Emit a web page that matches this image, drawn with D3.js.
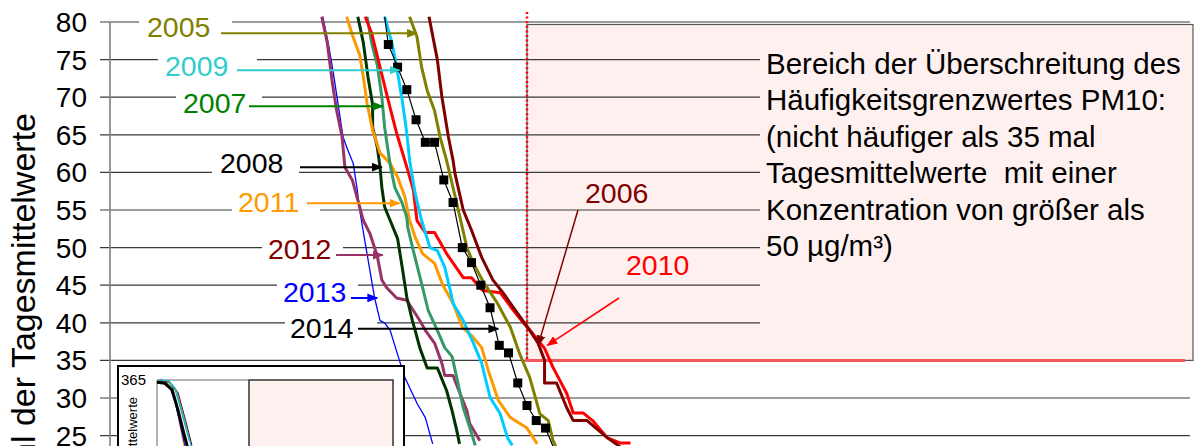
<!DOCTYPE html>
<html>
<head>
<meta charset="utf-8">
<script src="https://cdn.jsdelivr.net/npm/d3@7"></script>
<style>
  body { margin: 0; background: #fff; }
  svg { display: block; font-family: "Liberation Sans", Arial, sans-serif; }
  text { white-space: pre; }
</style>
</head>
<body>
<svg id="chart" width="1195" height="446"></svg>
<script>
// ---- data: [concentration µg/m³, number of daily means above it] ----
const yTicks = [80, 75, 70, 65, 60, 55, 50, 45, 40, 35, 30, 25];
const limitConc = 50;   // PM10 daily limit
const limitDays = 35;   // allowed exceedances per year

const s2005 = [[37.3,80.7],[38.1,78],[38.6,74],[39.2,70.9],[40.0,68.2],[40.6,64.7],[41.3,61.6],[42.4,55.9],[43.5,50],[44.2,47.9],[45.3,45.4],[46.8,42.6],[48.2,39.4],[49.2,35.9],[50.3,32.7],[51.4,27.9],[52.3,27],[52.8,24.4],[53.3,23]];
const s2006 = [[39.4,80.7],[40.3,75],[40.8,70],[41.5,64.7],[42.0,61.6],[42.2,59.9],[43.1,55],[44.0,52.3],[45.1,48.7],[46.3,45.7],[47.4,44],[48.5,42.1],[50.3,39],[51.2,37.3],[51.9,35],[51.9,32],[53.2,32],[54.3,28.7],[55.0,27],[56.5,27],[58.7,24.7],[60.1,23.5]];
const s2007 = [[32.7,80.7],[33.2,77.2],[33.8,74.3],[34.3,70],[34.6,66],[34.8,64.3],[35.2,61],[35.7,58],[36.5,55.9],[37.0,54],[37.1,52.7],[37.7,49.6],[38.5,45.7],[39.3,41.7],[40.3,39],[41.1,36.7],[41.9,35.5],[42.4,32.7],[43.1,28.7],[43.8,26.1],[44.4,23.7]];
const s2008 = [[31.7,80.7],[32.3,77.2],[32.8,72.7],[33.3,69],[33.3,66],[33.8,63.4],[34.1,60.7],[34.3,58],[34.6,55.4],[35.2,53.6],[36.0,51.2],[36.5,47.4],[37.0,43.4],[37.6,40.3],[37.9,39],[38.4,36.7],[39.2,34],[40.3,34],[41.3,31],[41.9,28.3],[42.4,25.7],[42.7,23.9]];
const s2009 = [[34.6,80.7],[35.4,77.2],[35.9,74],[36.5,69.6],[37.0,65.2],[37.3,61.6],[37.9,57.2],[38.6,53.6],[39.5,50],[40.3,49.6],[41.1,47.4],[41.7,44.3],[42.0,42.6],[43.1,40.3],[44.2,37.3],[45.1,34.6],[46.0,30.1],[47.1,27.9],[47.9,24.7],[48.4,23.7]];
const s2010 = [[32.5,80.7],[33.2,78.5],[34.1,74],[34.8,70.5],[35.9,65.2],[37.0,60.7],[37.7,57.7],[38.1,53.6],[39.0,52],[40.0,52],[41.3,49.2],[43.1,46],[44.0,46],[45.2,44.3],[47.1,44],[48.5,41.7],[49.6,40],[50.6,38.6],[51.9,36.6],[52.8,34.1],[54.3,30.6],[55.0,28],[56.1,28],[57.1,27],[58.7,24.7],[60.1,24],[61.2,24]];
const s2011 = [[30.5,80.7],[31.1,78.3],[31.9,75.6],[32.3,72.7],[32.7,69.2],[33.3,65.6],[34.1,62.6],[35.2,61.2],[36.0,59.4],[36.8,56.7],[37.3,53.6],[37.9,51.4],[38.7,49.2],[40.0,47.9],[40.9,45],[42.0,42.6],[43.0,39.4],[44.0,38.3],[45.1,36.7],[45.8,33.7],[46.9,29.7],[48.2,27.4],[50.0,26],[51.1,23.9]];
const s2012 = [[27.8,80.7],[28.4,77.2],[28.9,72.3],[29.4,68.3],[30.0,64.7],[30.3,60.7],[31.1,59],[31.7,56.3],[32.3,53.6],[33.0,51.9],[33.8,48.9],[34.3,45.7],[34.8,44.7],[35.9,43.3],[37.0,43],[38.4,40.3],[39.0,39],[40.0,37.3],[40.8,34.6],[41.1,33],[42.0,33],[42.5,31.4],[43.5,28.3],[43.8,26.6],[44.9,24.3]];
const s2013 = [[27.9,80.7],[28.5,77.2],[29.0,73.6],[29.5,69.6],[30.1,64.7],[30.6,63],[31.2,61.2],[31.6,58],[31.9,55],[32.5,50.6],[33.0,47],[33.5,43.4],[34.1,40.3],[34.6,40],[35.2,39],[36.3,34.6],[36.8,32.7],[38.1,29.3],[39.0,27.4],[39.8,23.9]];
const s2014 = [[34.6,80.7],[35,77],[36,74],[37,71],[38,67],[39,64],[40,64],[41,59],[42,56],[43,50],[44,48],[45,45],[46,42],[47,37],[48,36],[49,32],[50,29],[51,27],[52,26],[53,23]];

// inset: whole year (0..365 days)
const insetBlack  = [[0,361],[4.3,359],[8.2,347],[11.4,310],[14.1,274],[16.3,246],[20,180]];
const insetOrange = [[0,364],[5,362],[8,348],[10.5,318],[13,272],[15.5,230]];
const insetBlue   = [[0,362],[3,361],[7,352],[10,322],[12.8,280],[15.5,240]];
const insetCyan   = [[0.5,365],[6,364],[10,350],[13.5,310],[17,265],[19.5,230]];
const insetRed    = [[1,365],[6.5,363],[10.5,346],[14.5,298],[18.5,248]];
const insetMaroon = [[2,365],[7,362],[11.5,342],[15.5,292],[19,246]];
const insetOlive  = [[1,364],[7,360],[11,341],[15,290],[18.8,244]];
const insetGreen  = [[0.5,364],[6,361],[10,345],[13.8,300],[17.5,254]];
const insetPurple = [[0,363],[4.5,360],[8.5,344],[11.8,300],[14.8,252]];

const noteLines = ["Bereich der Überschreitung des", "Häufigkeitsgrenzwertes PM10:",
  "(nicht häufiger als 35 mal", "Tagesmittelwerte  mit einer",
  "Konzentration von größer als", "50 µg/m³)"];

// ---- setup ----
const svg = d3.select("#chart");
const x = d3.scaleLinear().domain([5, 50]).range([111, 527]);
const y = d3.scaleLinear().domain([25, 80]).range([435.6, 22]);

const series = [
  {name: "2013", data: s2013, color: "#0000ff", w: 1.3},
  {name: "2012", data: s2012, color: "#993366", w: 3},
  {name: "2008", data: s2008, color: "#003300", w: 3},
  {name: "2011", data: s2011, color: "#ff9900", w: 3},
  {name: "2007", data: s2007, color: "#339966", w: 3},
  {name: "2010", data: s2010, color: "#ff0000", w: 3},
  {name: "2009", data: s2009, color: "#00ccff", w: 3},
  {name: "2005", data: s2005, color: "#808000", w: 3},
  {name: "2006", data: s2006, color: "#800000", w: 3},
  {name: "2014", data: s2014, color: "#000000", w: 1.2}
];

// arrow heads
const defs = svg.append("defs");
const arrowColors = {olive: "#808000", cyan: "#33cccc", green: "#008000", black: "#000000",
  orange: "#ff9900", purple: "#993366", blue: "#0000ff", maroon: "#800000", red: "#ff0000"};
Object.entries(arrowColors).forEach(([k, c]) => {
  defs.append("marker").attr("id", "ah-" + k)
    .attr("viewBox", "0 0 10 8").attr("refX", 9).attr("refY", 4)
    .attr("markerUnits", "userSpaceOnUse").attr("markerWidth", 11).attr("markerHeight", 9)
    .attr("orient", "auto")
    .append("path").attr("d", "M0,0 L10,4 L0,8 z").attr("fill", c);
});

// exceedance area
const xRight = 1193;
svg.append("rect")
  .attr("x", x(limitConc)).attr("y", 24.5)
  .attr("width", xRight - x(limitConc)).attr("height", y(limitDays) - 24.5)
  .attr("fill", "#fff0f0").attr("stroke", "#555").attr("stroke-width", 1.2);

// grid lines (with ticks on the left)
const gridEnd = v => (v === 80 || v < limitDays) ? 1190 : (v === limitDays ? x(limitConc) : 760);
svg.append("g").selectAll("line").data(yTicks).join("line")
  .attr("x1", 100).attr("x2", d => gridEnd(d))
  .attr("y1", d => y(d)).attr("y2", d => y(d))
  .attr("stroke", "#3a3a3a").attr("stroke-width", 1.2);

// left axis
svg.append("line").attr("x1", 110).attr("x2", 110).attr("y1", y(80)).attr("y2", 446)
  .attr("stroke", "#808080").attr("stroke-width", 1.6);

// tick labels
svg.append("g").selectAll("text").data(yTicks).join("text")
  .attr("x", 87).attr("y", d => y(d)).attr("dy", "0.36em")
  .attr("text-anchor", "end").attr("font-size", 28).text(d => d);

// y title
svg.append("text").attr("transform", "translate(35,113) rotate(-90)")
  .attr("text-anchor", "end").attr("font-size", 34).text("Anzahl der Tagesmittelwerte");

// limit lines
svg.append("line").attr("x1", x(limitConc) - 2).attr("x2", 1185)
  .attr("y1", y(limitDays)).attr("y2", y(limitDays))
  .attr("stroke", "#f05a5a").attr("stroke-width", 3);
svg.append("line").attr("x1", x(limitConc)).attr("x2", x(limitConc))
  .attr("y1", 12).attr("y2", y(limitDays))
  .attr("stroke", "#ff0000").attr("stroke-width", 2.5).attr("stroke-dasharray", "2,2.6");

// note text
svg.append("text").attr("x", 766).attr("y", 74).attr("font-size", 29.5)
  .selectAll("tspan").data(noteLines).join("tspan")
  .attr("x", 766).attr("dy", (d, i) => i === 0 ? 0 : 36.4).text(d => d);

// curves
const line = d3.line().x(d => x(d[0])).y(d => y(d[1]));
svg.append("g").selectAll("path").data(series).join("path")
  .attr("d", d => line(d.data)).attr("fill", "none")
  .attr("stroke", d => d.color).attr("stroke-width", d => d.w)
  .attr("stroke-linejoin", "round");

// 2014 markers
svg.append("g").selectAll("rect").data(s2014.slice(1)).join("rect")
  .attr("x", d => x(d[0]) - 4.5).attr("y", d => y(d[1]) - 4.5)
  .attr("width", 9).attr("height", 9).attr("fill", "#000");

// year labels with arrows (text box in px, arrow tip in data units)
const yearLabels = [
  {t: "2005", c: "#808000", a: "olive",  tx: 147, ty: 37,  box: [139, 232], ax: 221, tip: [38.1, 78.5]},
  {t: "2009", c: "#33cccc", a: "cyan",   tx: 165, ty: 76,  box: [158, 257], ax: 237, tip: [36.2, 73.6]},
  {t: "2007", c: "#008000", a: "green",  tx: 183, ty: 113, box: [176, 262], ax: 249, tip: [34.4, 68.8]},
  {t: "2008", c: "#000000", a: "black",  tx: 220, ty: 173, box: [212, 299], ax: 300, tip: [34.3, 60.7]},
  {t: "2011", c: "#ff9900", a: "orange", tx: 238, ty: 212, box: [232, 320], ax: 307, tip: [36.2, 55.9]},
  {t: "2012", c: "#800000", a: "purple", tx: 268, ty: 259, box: [262, 343], ax: 336, tip: [34.4, 49.0]},
  {t: "2013", c: "#0000ff", a: "blue",   tx: 283, ty: 302, box: [277, 358], ax: 351, tip: [33.8, 43.3]},
  {t: "2014", c: "#000000", a: "black",  tx: 290, ty: 338, box: [285, 377], ax: 358, tip: [46.9, 39.2]}
];
const lg = svg.append("g");
lg.selectAll("rect").data(yearLabels).join("rect")
  .attr("x", d => d.box[0]).attr("y", d => d.ty - 26)
  .attr("width", d => d.box[1] - d.box[0]).attr("height", 31).attr("fill", "#fff");
lg.selectAll("text").data(yearLabels).join("text")
  .attr("x", d => d.tx).attr("y", d => d.ty).attr("font-size", 28.5)
  .attr("fill", d => d.c).text(d => d.t);
lg.selectAll("line").data(yearLabels).join("line")
  .attr("x1", d => d.ax).attr("x2", d => x(d.tip[0]))
  .attr("y1", d => y(d.tip[1])).attr("y2", d => y(d.tip[1]))
  .attr("stroke", d => arrowColors[d.a]).attr("stroke-width", 2)
  .attr("marker-end", d => "url(#ah-" + d.a + ")");

// 2006 / 2010 labels over the exceedance area
const areaLabels = [
  {t: "2006", c: "#800000", a: "maroon", tx: 585, ty: 203, from: [578, 210], tip: [51.2, 37.0]},
  {t: "2010", c: "#ff0000", a: "red",    tx: 626, ty: 275, from: [619, 298], tip: [52.2, 37.0]}
];
svg.append("g").selectAll("text").data(areaLabels).join("text")
  .attr("x", d => d.tx).attr("y", d => d.ty).attr("font-size", 28.5)
  .attr("fill", d => d.c).text(d => d.t);
svg.append("g").selectAll("line").data(areaLabels).join("line")
  .attr("x1", d => d.from[0]).attr("y1", d => d.from[1])
  .attr("x2", d => x(d.tip[0])).attr("y2", d => y(d.tip[1]))
  .attr("stroke", d => d.c).attr("stroke-width", 1.5)
  .attr("marker-end", d => "url(#ah-" + d.a + ")");

// ---- inset (full year) ----
const ix = d3.scaleLinear().domain([0, 50]).range([157, 249]);
const iy = d3.scaleLinear().domain([0, 365]).range([580, 380]);
const inset = svg.append("g");
inset.append("rect").attr("x", 118).attr("y", 366).attr("width", 286).attr("height", 100)
  .attr("fill", "#fff").attr("stroke", "#000").attr("stroke-width", 2);
inset.append("rect").attr("x", ix(50)).attr("y", iy(365)).attr("width", 144).attr("height", 90)
  .attr("fill", "#fff0f0").attr("stroke", "#333").attr("stroke-width", 1.5);
inset.append("line").attr("x1", ix(0)).attr("x2", ix(50)).attr("y1", iy(365)).attr("y2", iy(365))
  .attr("stroke", "#666").attr("stroke-width", 1);
inset.append("line").attr("x1", ix(0)).attr("x2", ix(0)).attr("y1", iy(365)).attr("y2", 446)
  .attr("stroke", "#666").attr("stroke-width", 1);
inset.append("text").attr("x", 146).attr("y", 385).attr("text-anchor", "end")
  .attr("font-size", 15).text("365");
inset.append("text").attr("transform", "translate(137,397) rotate(-90)")
  .attr("text-anchor", "end").attr("font-size", 13).text("Anzahl der Tagesmittelwerte");
const insetSeries = [
  {d: insetOrange, c: "#ff9900", w: 1}, {d: insetPurple, c: "#993366", w: 1},
  {d: insetBlue, c: "#0000ff", w: 1}, {d: insetGreen, c: "#339966", w: 1},
  {d: insetRed, c: "#ff0000", w: 1}, {d: insetOlive, c: "#808000", w: 1},
  {d: insetMaroon, c: "#800000", w: 1}, {d: insetCyan, c: "#00ccff", w: 1.2},
  {d: insetBlack, c: "#000000", w: 3}
];
const iline = d3.line().x(d => ix(d[0])).y(d => iy(d[1]));
inset.selectAll("path").data(insetSeries).join("path")
  .attr("d", d => iline(d.d)).attr("fill", "none")
  .attr("stroke", d => d.c).attr("stroke-width", d => d.w);
</script>
</body>
</html>
